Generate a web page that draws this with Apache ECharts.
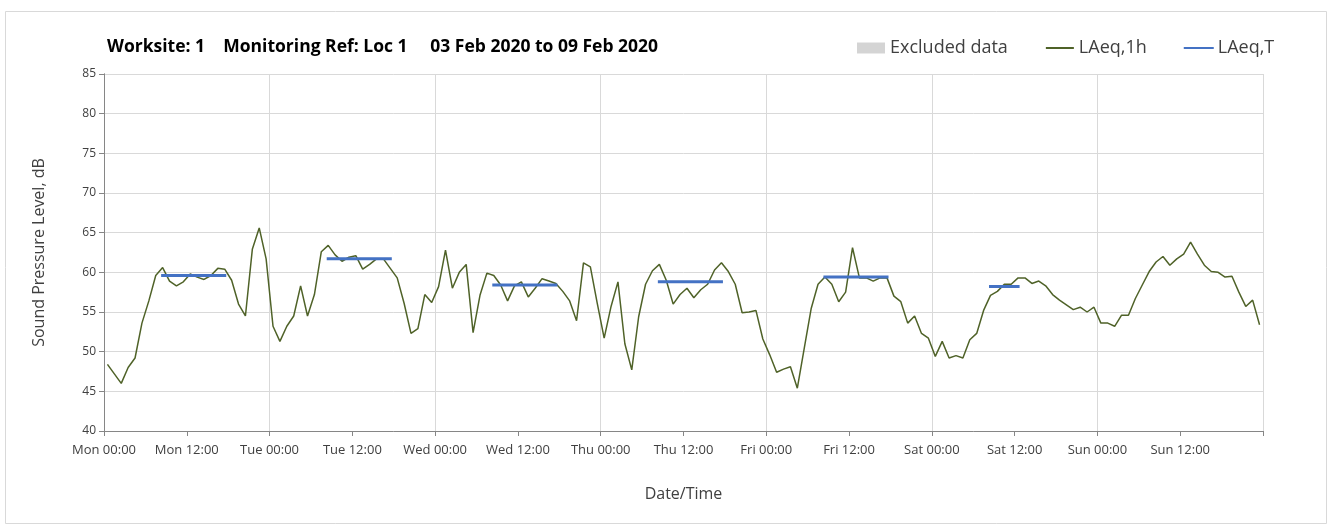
<!DOCTYPE html>
<html><head><meta charset="utf-8">
<script src="https://cdn.jsdelivr.net/npm/echarts@6/dist/echarts.min.js"></script>
<style>html,body{margin:0;padding:0;background:#fff}#chart{width:1333px;height:529px}</style>
</head><body><div id="chart"></div>
<script>
const titleText = 'Worksite: 1    Monitoring Ref: Loc 1     03 Feb 2020 to 09 Feb 2020';
const dayNames = ['Mon', 'Tue', 'Wed', 'Thu', 'Fri', 'Sat', 'Sun'];
const tickTimes = ['00:00', '12:00'];
// hourly LAeq,1h values, Mon 00:00 .. Sun 23:00 (plotted at mid-hour)
const laeq1h = [
  48.4, 47.2, 46.0, 48.0, 49.2, 53.6, 56.4, 59.6, 60.6, 58.9, 58.3, 58.8,
  59.8, 59.4, 59.1, 59.6, 60.5, 60.4, 59.0, 56.0, 54.5, 62.9, 65.6, 61.7,
  53.2, 51.3, 53.2, 54.5, 58.3, 54.5, 57.2, 62.6, 63.4, 62.2, 61.4, 61.9,
  62.1, 60.4, 61.0, 61.7, 61.7, 60.5, 59.3, 56.1, 52.3, 52.9, 57.2, 56.2,
  58.2, 62.8, 58.0, 60.0, 61.0, 52.4, 57.1, 59.9, 59.6, 58.4, 56.4, 58.3,
  58.8, 56.9, 58.0, 59.2, 58.9, 58.6, 57.6, 56.4, 53.9, 61.2, 60.7, 56.1,
  51.7, 55.7, 58.8, 51.0, 47.7, 54.4, 58.5, 60.2, 61.0, 59.0, 56.0, 57.2,
  58.0, 56.8, 57.8, 58.5, 60.3, 61.2, 60.1, 58.5, 54.9, 55.0, 55.2, 51.6,
  49.6, 47.4, 47.8, 48.1, 45.4, 50.4, 55.4, 58.5, 59.4, 58.5, 56.3, 57.5,
  63.1, 59.3, 59.3, 58.9, 59.3, 59.3, 57.0, 56.3, 53.6, 54.5, 52.3, 51.7,
  49.4, 51.3, 49.2, 49.5, 49.2, 51.5, 52.3, 55.2, 57.1, 57.6, 58.5, 58.5,
  59.3, 59.3, 58.6, 58.9, 58.3, 57.2, 56.5, 55.9, 55.3, 55.6, 55.0, 55.6,
  53.6, 53.6, 53.2, 54.6, 54.6, 56.7, 58.4, 60.1, 61.3, 62.0, 60.9, 61.7,
  62.3, 63.8, 62.3, 60.9, 60.1, 60.0, 59.4, 59.5, 57.5, 55.7, 56.5, 53.4
];
// LAeq,T daytime periods (hour index of first / last hourly value)
const laeqTStartHour = [8, 32, 56, 80, 104, 128];
const laeqTEndHour = [17, 41, 65, 89, 113, 132];
const laeqTValues = [59.6, 61.7, 58.4, 58.8, 59.4, 58.2];

const lineData = laeq1h.map((v, i) => [i + 0.5, v]);
const tData = [];
laeqTValues.forEach((v, i) => {
  tData.push([laeqTStartHour[i] + 0.5, v]);
  tData.push([laeqTEndHour[i] + 0.5, v]);
  tData.push([laeqTEndHour[i] + 1, '-']);
});

const FONT = '"Open Sans", "Noto Sans", sans-serif';
const chart = echarts.init(document.getElementById('chart'), null, {renderer: 'canvas'});
chart.setOption({
  animation: false,
  backgroundColor: '#fff',
  textStyle: {fontFamily: FONT},
  graphic: [{
    type: 'rect', shape: {x: 5.5, y: 11.5, width: 1321, height: 512},
    style: {fill: 'none', stroke: '#d9d9d9', lineWidth: 1}, silent: true, z: -10
  }],
  title: {
    text: titleText, left: 102, top: 33,
    textStyle: {fontFamily: FONT, fontSize: 17.5, fontWeight: 'bold', color: '#000'}
  },
  legend: {
    left: 852, top: 34, itemWidth: 28, itemHeight: 11, itemGap: 37,
    textStyle: {fontFamily: FONT, fontSize: 18, color: '#404040'},
    data: [
      {name: 'Excluded data', icon: 'rect'},
      {name: 'LAeq,1h', itemStyle: {opacity: 0}},
      {name: 'LAeq,T', itemStyle: {opacity: 0}}
    ]
  },
  grid: {left: 104, right: 70, top: 74, bottom: 98, containLabel: false},
  xAxis: [{
    type: 'value', min: 0, max: 168, interval: 12, position: 'bottom',
    axisLine: {show: true, lineStyle: {color: '#868686', width: 1}},
    axisTick: {show: true, length: 5, lineStyle: {color: '#868686'}},
    axisLabel: {
      color: '#404040', fontSize: 13, margin: 13, fontFamily: FONT,
      formatter: v => v >= 168 ? '' : dayNames[Math.floor(v / 24)] + ' ' + tickTimes[(v % 24) / 12]
    },
    splitLine: {show: false},
    name: 'Date/Time', nameLocation: 'middle', nameGap: 55,
    nameTextStyle: {fontSize: 16, color: '#404040', fontFamily: FONT}
  }, {
    type: 'value', min: 0, max: 168, interval: 24, position: 'top',
    axisLine: {show: false}, axisTick: {show: false}, axisLabel: {show: false},
    splitLine: {show: true, lineStyle: {color: '#d9d9d9', width: 1}}
  }],
  yAxis: [{
    type: 'value', min: 40, max: 85, interval: 5,
    axisLine: {show: true, lineStyle: {color: '#868686', width: 1}},
    axisTick: {show: true, length: 5, lineStyle: {color: '#868686'}},
    axisLabel: {color: '#404040', fontSize: 12, margin: 8, fontFamily: FONT},
    splitLine: {show: true, lineStyle: {color: '#d9d9d9', width: 1}},
    name: 'Sound Pressure Level, dB', nameLocation: 'middle', nameGap: 57,
    nameTextStyle: {fontSize: 16, color: '#404040', fontFamily: FONT}
  }, {
    type: 'value', min: 40, max: 85, interval: 5, position: 'right',
    axisLine: {show: true, lineStyle: {color: '#868686', width: 1}},
    axisTick: {show: false}, axisLabel: {show: false}, splitLine: {show: false}
  }],
  series: [{
    name: 'Excluded data', type: 'bar', data: [],
    itemStyle: {color: '#d4d4d4'}
  }, {
    name: 'LAeq,1h', type: 'line', data: lineData, symbol: 'none',
    lineStyle: {color: '#4F6228', width: 1.5}, itemStyle: {color: '#4F6228'}, z: 3
  }, {
    name: 'LAeq,T', type: 'line', data: tData, symbol: 'none', connectNulls: false,
    lineStyle: {color: '#4472C4', width: 3, cap: 'square'}, itemStyle: {color: '#4472C4'}, z: 4
  }]
});
</script></body></html>
